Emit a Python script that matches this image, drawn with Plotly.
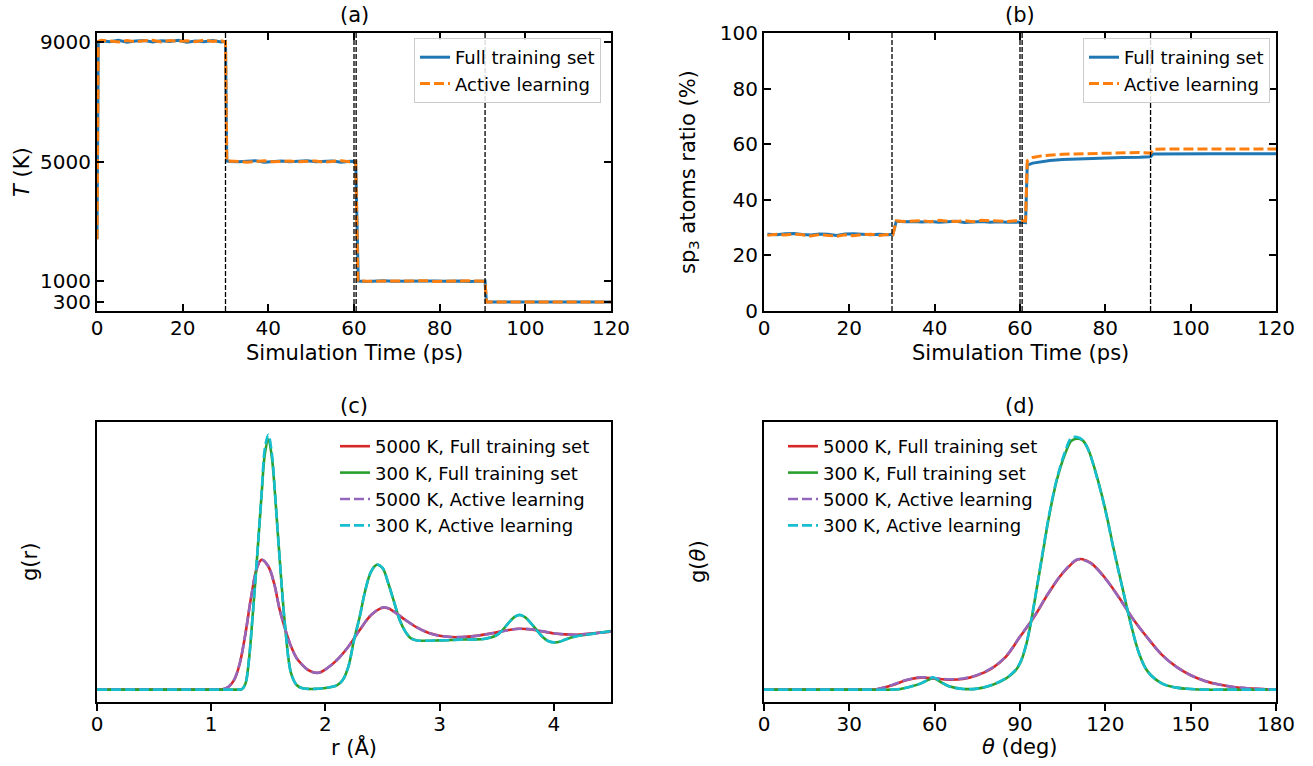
import plotly.graph_objects as go

# ---------------- Panel (a): temperature vs time ----------------
time_a = [0, 0.3, 1, 3, 5, 7, 9, 11, 13, 15, 17, 19, 21, 23, 25, 27, 29, 30.0,
          30.3, 31, 33, 35, 37, 39, 41, 43, 45, 47, 49, 51, 53, 55, 57, 59, 60.4,
          60.9, 61, 63, 65, 67, 69, 71, 73, 75, 77, 79, 81, 83, 85, 87, 89, 90.6,
          90.9, 91, 93, 95, 97, 99, 101, 103, 105, 107, 109, 111, 113, 115, 117, 119, 120]
T_full = [2400, 9000, 9040, 9010, 9060, 8990, 9030, 9050, 9000, 9040, 9020, 9060, 8990, 9030, 9010, 9050, 9000, 9020,
          5020, 5000, 4990, 5010, 5030, 4980, 5000, 5020, 4990, 5010, 5030, 4990, 5000, 5020, 4980, 5010, 5000,
          1010, 1000, 990, 1005, 1010, 995, 1000, 1010, 990, 1005, 1000, 995, 1010, 1000, 990, 1005, 1000,
          305, 300, 298, 302, 300, 297, 303, 300, 298, 302, 300, 299, 301, 300, 298, 302, 300]
T_active = [2400, 9020, 9060, 9030, 9000, 9050, 9010, 9040, 9060, 9000, 9050, 9020, 9040, 9010, 9060, 9020, 9040, 9000,
            5000, 5020, 5010, 4980, 5000, 5030, 4990, 5010, 5020, 4990, 5000, 5020, 4980, 5010, 5030, 4990, 5010,
            1000, 1010, 995, 1000, 990, 1010, 1005, 995, 1000, 1010, 990, 1000, 1005, 995, 1010, 1000, 995,
            300, 302, 299, 300, 303, 298, 300, 301, 299, 302, 300, 298, 301, 303, 299, 300, 301]
T_ticks = [300, 1000, 5000, 9000]

# ---------------- Panel (b): sp3 ratio vs time ----------------
time_b = [0.8, 3, 5, 7, 9, 11, 13, 15, 17, 19, 21, 23, 25, 27, 29, 30.2,
          31, 33, 35, 37, 39, 41, 43, 45, 47, 49, 51, 53, 55, 57, 59, 61.3,
          61.7, 63, 65, 67, 70, 73, 76, 80, 84, 88, 90.6,
          91.2, 95, 100, 105, 110, 115, 120]
sp3_full = [27.6, 27.4, 27.8, 27.9, 27.5, 27.3, 27.7, 27.6, 27.2, 27.7, 27.8, 27.5, 27.4, 27.6, 27.4, 27.6,
            32.3, 32.1, 32.2, 32.0, 32.2, 31.9, 32.1, 32.3, 31.8, 32.0, 32.2, 31.9, 32.1, 31.9, 32.0, 31.8,
            52.5, 53.2, 53.7, 54.1, 54.5, 54.7, 54.9, 55.0, 55.2, 55.3, 55.5,
            56.5, 56.6, 56.6, 56.6, 56.6, 56.6, 56.6]
sp3_active = [27.2, 27.6, 27.3, 27.7, 27.4, 27.0, 27.5, 27.3, 26.9, 27.4, 27.1, 27.5, 27.6, 27.2, 27.5, 27.4,
              32.4, 32.2, 32.4, 32.5, 32.1, 32.6, 32.3, 32.2, 32.5, 32.1, 32.6, 32.4, 32.3, 32.2, 32.5, 32.4,
              54.0, 55.2, 55.8, 56.1, 56.4, 56.5, 56.6, 56.8, 57.0, 57.0, 56.8,
              58.2, 58.3, 58.3, 58.3, 58.3, 58.3, 58.3]
vlines_time = [30, 60, 60.5, 90.6]

# ---------------- Panel (c): g(r) ----------------
r_5000 = [0, 0.4, 0.8, 1.0, 1.1, 1.15, 1.2, 1.25, 1.3, 1.35, 1.4, 1.44, 1.5, 1.55, 1.6, 1.65, 1.7, 1.75, 1.8, 1.85,
          1.9, 1.95, 2.0, 2.1, 2.2, 2.3, 2.4, 2.5, 2.55, 2.6, 2.7, 2.8, 2.9, 3.0, 3.1, 3.2, 3.3, 3.4, 3.5, 3.6,
          3.7, 3.8, 3.9, 4.0, 4.1, 4.2, 4.3, 4.4, 4.5]
gr_5000_full = [0, 0, 0, 0, 0.005, 0.047, 0.165, 0.459, 0.988, 1.635, 2.135, 2.282, 2.165, 1.871, 1.4, 1.047, 0.753,
                0.547, 0.429, 0.341, 0.3, 0.3, 0.353, 0.518, 0.753, 1.047, 1.312, 1.441, 1.429, 1.371, 1.224, 1.094,
                1.0, 0.947, 0.924, 0.924, 0.941, 0.971, 1.006, 1.047, 1.071, 1.059, 1.024, 0.988, 0.971, 0.965,
                0.982, 1.0, 1.018]
gr_5000_active = [0, 0, 0, 0, 0.006, 0.05, 0.17, 0.465, 0.99, 1.64, 2.14, 2.29, 2.17, 1.875, 1.40, 1.045, 0.75,
                  0.545, 0.43, 0.34, 0.30, 0.30, 0.355, 0.52, 0.755, 1.05, 1.315, 1.445, 1.43, 1.37, 1.225, 1.095,
                  1.0, 0.945, 0.925, 0.925, 0.94, 0.97, 1.005, 1.045, 1.07, 1.06, 1.025, 0.99, 0.97, 0.965,
                  0.98, 1.0, 1.02]
r_300 = [0, 0.4, 0.8, 1.1, 1.22, 1.27, 1.3, 1.33, 1.36, 1.4, 1.44, 1.47, 1.5, 1.53, 1.56, 1.6, 1.65, 1.7, 1.75,
         1.8, 1.9, 2.0, 2.1, 2.15, 2.2, 2.25, 2.3, 2.35, 2.4, 2.45, 2.5, 2.55, 2.6, 2.65, 2.7, 2.75, 2.8, 2.9, 3.0,
         3.1, 3.2, 3.3, 3.4, 3.5, 3.55, 3.6, 3.65, 3.7, 3.75, 3.8, 3.85, 3.9, 3.95, 4.0, 4.05, 4.1, 4.2, 4.3, 4.4, 4.5]
gr_300_full = [0, 0, 0, 0, 0, 0.01, 0.106, 0.518, 1.224, 2.282, 3.4, 4.15, 4.40, 4.10, 3.4, 2.282, 1.047, 0.282,
               0.076, 0.024, 0.012, 0.029, 0.076, 0.165, 0.4, 0.871, 1.282, 1.753, 2.076, 2.194, 2.135, 1.871,
               1.547, 1.224, 1.018, 0.9, 0.865, 0.859, 0.865, 0.871, 0.882, 0.882, 0.894, 0.959, 1.047, 1.165,
               1.271, 1.312, 1.271, 1.165, 1.047, 0.929, 0.853, 0.829, 0.841, 0.882, 0.941, 0.971, 1.0, 1.029]
gr_300_active = [0, 0, 0, 0, 0, 0.01, 0.11, 0.52, 1.23, 2.29, 3.42, 4.25, 4.48, 4.17, 3.41, 2.28, 1.045, 0.28,
                 0.075, 0.025, 0.012, 0.03, 0.075, 0.165, 0.40, 0.87, 1.28, 1.755, 2.08, 2.20, 2.14, 1.87,
                 1.545, 1.225, 1.02, 0.90, 0.865, 0.86, 0.865, 0.87, 0.88, 0.88, 0.895, 0.96, 1.045, 1.165,
                 1.27, 1.315, 1.27, 1.165, 1.045, 0.93, 0.855, 0.83, 0.84, 0.88, 0.94, 0.97, 1.0, 1.03]

# ---------------- Panel (d): g(theta) ----------------
th_5000 = [0, 12, 24, 34, 38, 40, 45, 50, 55, 60, 65, 70, 75, 80, 85, 90, 95, 100, 105, 110, 112, 115, 120, 125,
           130, 135, 140, 145, 150, 155, 160, 165, 170, 175, 180]
gth_5000_full = [0, 0, 0, 0, 0, 0.02, 0.13, 0.28, 0.36, 0.33, 0.30, 0.32, 0.43, 0.63, 0.98, 1.58, 2.18, 2.88,
                 3.48, 3.88, 3.90, 3.78, 3.33, 2.73, 2.08, 1.53, 1.03, 0.68, 0.43, 0.26, 0.15, 0.08, 0.04, 0.02, 0]
gth_5000_active = [0, 0, 0, 0, 0, 0.02, 0.14, 0.29, 0.37, 0.34, 0.31, 0.33, 0.44, 0.64, 0.99, 1.59, 2.19, 2.89,
                   3.49, 3.89, 3.88, 3.77, 3.32, 2.72, 2.08, 1.53, 1.03, 0.68, 0.43, 0.26, 0.15, 0.08, 0.04, 0.02, 0]
th_300 = [0, 12, 24, 36, 45, 48, 52, 55, 58, 59.5, 62, 65, 70, 75, 80, 85, 88, 90, 92, 94, 96, 98, 100, 103, 106,
          108, 110, 112, 114, 117, 120, 123, 126, 129, 132, 135, 140, 145, 150, 155, 165, 180]
gth_300_full = [0, 0, 0, 0, 0, 0.02, 0.10, 0.18, 0.30, 0.35, 0.23, 0.10, 0.02, 0.03, 0.13, 0.33, 0.53, 0.78, 1.28,
                2.08, 3.08, 4.08, 5.08, 6.28, 7.08, 7.43, 7.50, 7.45, 7.18, 6.38, 5.38, 4.18, 3.05, 1.95, 1.05,
                0.53, 0.18, 0.06, 0.02, 0, 0, 0]
gth_300_active = [0, 0, 0, 0, 0, 0.02, 0.10, 0.18, 0.31, 0.37, 0.24, 0.10, 0.02, 0.03, 0.14, 0.34, 0.55, 0.80,
                  1.30, 2.10, 3.10, 4.12, 5.12, 6.32, 7.15, 7.52, 7.55, 7.46, 7.17, 6.36, 5.36, 4.16, 3.04, 1.95,
                  1.05, 0.53, 0.18, 0.06, 0.02, 0, 0, 0]

BLUE, ORANGE = "#1f77b4", "#ff7f0e"
RED, GREEN, PURPLE, CYAN = "#d62728", "#2ca02c", "#9467bd", "#17becf"
DASH = "10px,4px"
FONT = "DejaVu Sans"

fig = go.Figure()

# (a)
fig.add_trace(go.Scatter(x=time_a, y=T_full, mode="lines", name="Full training set",
                         line=dict(color=BLUE, width=3), xaxis="x", yaxis="y", legend="legend"))
fig.add_trace(go.Scatter(x=time_a, y=T_active, mode="lines", name="Active learning",
                         line=dict(color=ORANGE, width=3, dash=DASH), xaxis="x", yaxis="y", legend="legend"))
# (b)
fig.add_trace(go.Scatter(x=time_b, y=sp3_full, mode="lines", name="Full training set",
                         line=dict(color=BLUE, width=3), xaxis="x2", yaxis="y2", legend="legend2"))
fig.add_trace(go.Scatter(x=time_b, y=sp3_active, mode="lines", name="Active learning",
                         line=dict(color=ORANGE, width=3, dash=DASH), xaxis="x2", yaxis="y2", legend="legend2"))
# (c)
fig.add_trace(go.Scatter(x=r_5000, y=gr_5000_full, mode="lines", name="5000 K, Full training set",
                         line=dict(color=RED, width=2.6, shape="spline"), xaxis="x3", yaxis="y3", legend="legend3"))
fig.add_trace(go.Scatter(x=r_300, y=gr_300_full, mode="lines", name="300 K, Full training set",
                         line=dict(color=GREEN, width=2.6, shape="spline"), xaxis="x3", yaxis="y3", legend="legend3"))
fig.add_trace(go.Scatter(x=r_5000, y=gr_5000_active, mode="lines", name="5000 K, Active learning",
                         line=dict(color=PURPLE, width=2.6, dash=DASH, shape="spline"), xaxis="x3", yaxis="y3", legend="legend3"))
fig.add_trace(go.Scatter(x=r_300, y=gr_300_active, mode="lines", name="300 K, Active learning",
                         line=dict(color=CYAN, width=2.6, dash=DASH, shape="spline"), xaxis="x3", yaxis="y3", legend="legend3"))
# (d)
fig.add_trace(go.Scatter(x=th_5000, y=gth_5000_full, mode="lines", name="5000 K, Full training set",
                         line=dict(color=RED, width=2.6, shape="spline"), xaxis="x4", yaxis="y4", legend="legend4"))
fig.add_trace(go.Scatter(x=th_300, y=gth_300_full, mode="lines", name="300 K, Full training set",
                         line=dict(color=GREEN, width=2.6, shape="spline"), xaxis="x4", yaxis="y4", legend="legend4"))
fig.add_trace(go.Scatter(x=th_5000, y=gth_5000_active, mode="lines", name="5000 K, Active learning",
                         line=dict(color=PURPLE, width=2.6, dash=DASH, shape="spline"), xaxis="x4", yaxis="y4", legend="legend4"))
fig.add_trace(go.Scatter(x=th_300, y=gth_300_active, mode="lines", name="300 K, Active learning",
                         line=dict(color=CYAN, width=2.6, dash=DASH, shape="spline"), xaxis="x4", yaxis="y4", legend="legend4"))

W, H = 1313, 766
def px_x(p):
    return p / W
def px_y(p):
    return 1 - p / H

xdomL = [px_x(97), px_x(611)]
xdomR = [px_x(764), px_x(1276)]
ydomT = [px_y(311), px_y(33)]
ydomB = [px_y(702), px_y(422)]

tickfont = dict(family=FONT, size=20, color="black")
box_in_x = dict(showline=True, linecolor="black", linewidth=2, mirror="allticks", ticks="inside",
                ticklen=7, tickwidth=2, tickcolor="black", showgrid=False, zeroline=False, tickfont=tickfont,
                automargin=False, ticklabelstandoff=-2)
box_in_y = dict(showline=True, linecolor="black", linewidth=2, mirror="allticks", ticks="inside",
                ticklen=7, tickwidth=2, tickcolor="black", showgrid=False, zeroline=False, tickfont=tickfont,
                automargin=False)
box_out_x = dict(showline=True, linecolor="black", linewidth=2, mirror=True, ticks="outside",
                 ticklen=7, tickwidth=2, tickcolor="black", showgrid=False, zeroline=False, tickfont=tickfont,
                 automargin=False, ticklabelstandoff=-4)
box_out_y = dict(showline=True, linecolor="black", linewidth=2, mirror=True, ticks="",
                 showticklabels=False, showgrid=False, zeroline=False, automargin=False)

shapes = []
for xr in ["x", "x2"]:
    yr = "y" if xr == "x" else "y2"
    for t in vlines_time:
        shapes.append(dict(type="line", xref=xr, yref=yr + " domain", x0=t, x1=t, y0=0, y1=1,
                           line=dict(color="black", width=1.3, dash="5px,2px"), layer="above"))

def ann(text, x, y, size=21, angle=0):
    return dict(text=text, x=px_x(x), y=px_y(y), xref="paper", yref="paper", showarrow=False,
                textangle=angle, font=dict(family=FONT, size=size, color="black"),
                xanchor="center", yanchor="middle")

annotations = [
    ann("(a)", 354, 15), ann("(b)", 1020, 15), ann("(c)", 354, 406), ann("(d)", 1020, 406),
    ann("Simulation Time (ps)", 354, 353), ann("Simulation Time (ps)", 1020, 353),
    ann("r (Å)", 354, 747), ann("<i>θ</i> (deg)", 1020, 747),
    ann("<i>T</i> (K)", 22, 172, angle=-90), ann("sp<sub>3</sub> atoms ratio (%)", 689, 172, angle=-90),
    ann("g(r)", 30, 562, angle=-90), ann("g(<i>θ</i>)", 698, 562, angle=-90),
]

leg_framed = dict(bgcolor="rgba(255,255,255,0.85)", bordercolor="#cccccc", borderwidth=1,
                  font=dict(family=FONT, size=18, color="black"), xanchor="right", yanchor="top",
                  tracegroupgap=0)
leg_plain = dict(bgcolor="rgba(255,255,255,0)", borderwidth=0,
                 font=dict(family=FONT, size=18, color="black"), xanchor="left", yanchor="top",
                 tracegroupgap=0)

fig.update_layout(
    width=W, height=H, margin=dict(l=0, r=0, t=0, b=0, pad=0, autoexpand=False),
    autosize=False,
    paper_bgcolor="white", plot_bgcolor="white",
    font=dict(family=FONT, size=18, color="black"),
    xaxis=dict(domain=xdomL, anchor="y", range=[0, 120], tickvals=[0, 20, 40, 60, 80, 100, 120], **box_in_x),
    yaxis=dict(domain=ydomT, anchor="x", range=[0, 9300], tickvals=T_ticks, **box_in_y),
    xaxis2=dict(domain=xdomR, anchor="y2", range=[0, 120], tickvals=[0, 20, 40, 60, 80, 100, 120], **box_in_x),
    yaxis2=dict(domain=ydomT, anchor="x2", range=[0, 100], tickvals=[0, 20, 40, 60, 80, 100], **box_in_y),
    xaxis3=dict(domain=xdomL, anchor="y3", range=[0, 4.5], tickvals=[0, 1, 2, 3, 4], **box_out_x),
    yaxis3=dict(domain=ydomB, anchor="x3", range=[-0.218, 4.706], **box_out_y),
    xaxis4=dict(domain=xdomR, anchor="y4", range=[0, 180], tickvals=[0, 30, 60, 90, 120, 150, 180], **box_out_x),
    yaxis4=dict(domain=ydomB, anchor="x4", range=[-0.37, 8.0], **box_out_y),
    legend=dict(x=px_x(601), y=px_y(38), **leg_framed),
    legend2=dict(x=px_x(1270), y=px_y(38), **leg_framed),
    legend3=dict(x=px_x(335), y=px_y(428), **leg_plain),
    legend4=dict(x=px_x(783), y=px_y(428), **leg_plain),
    shapes=shapes, annotations=annotations, showlegend=True,
)

fig.write_html("out.html", config={"displayModeBar": False, "responsive": False},
               post_script="document.body.style.margin='0';document.body.style.overflow='hidden';")
